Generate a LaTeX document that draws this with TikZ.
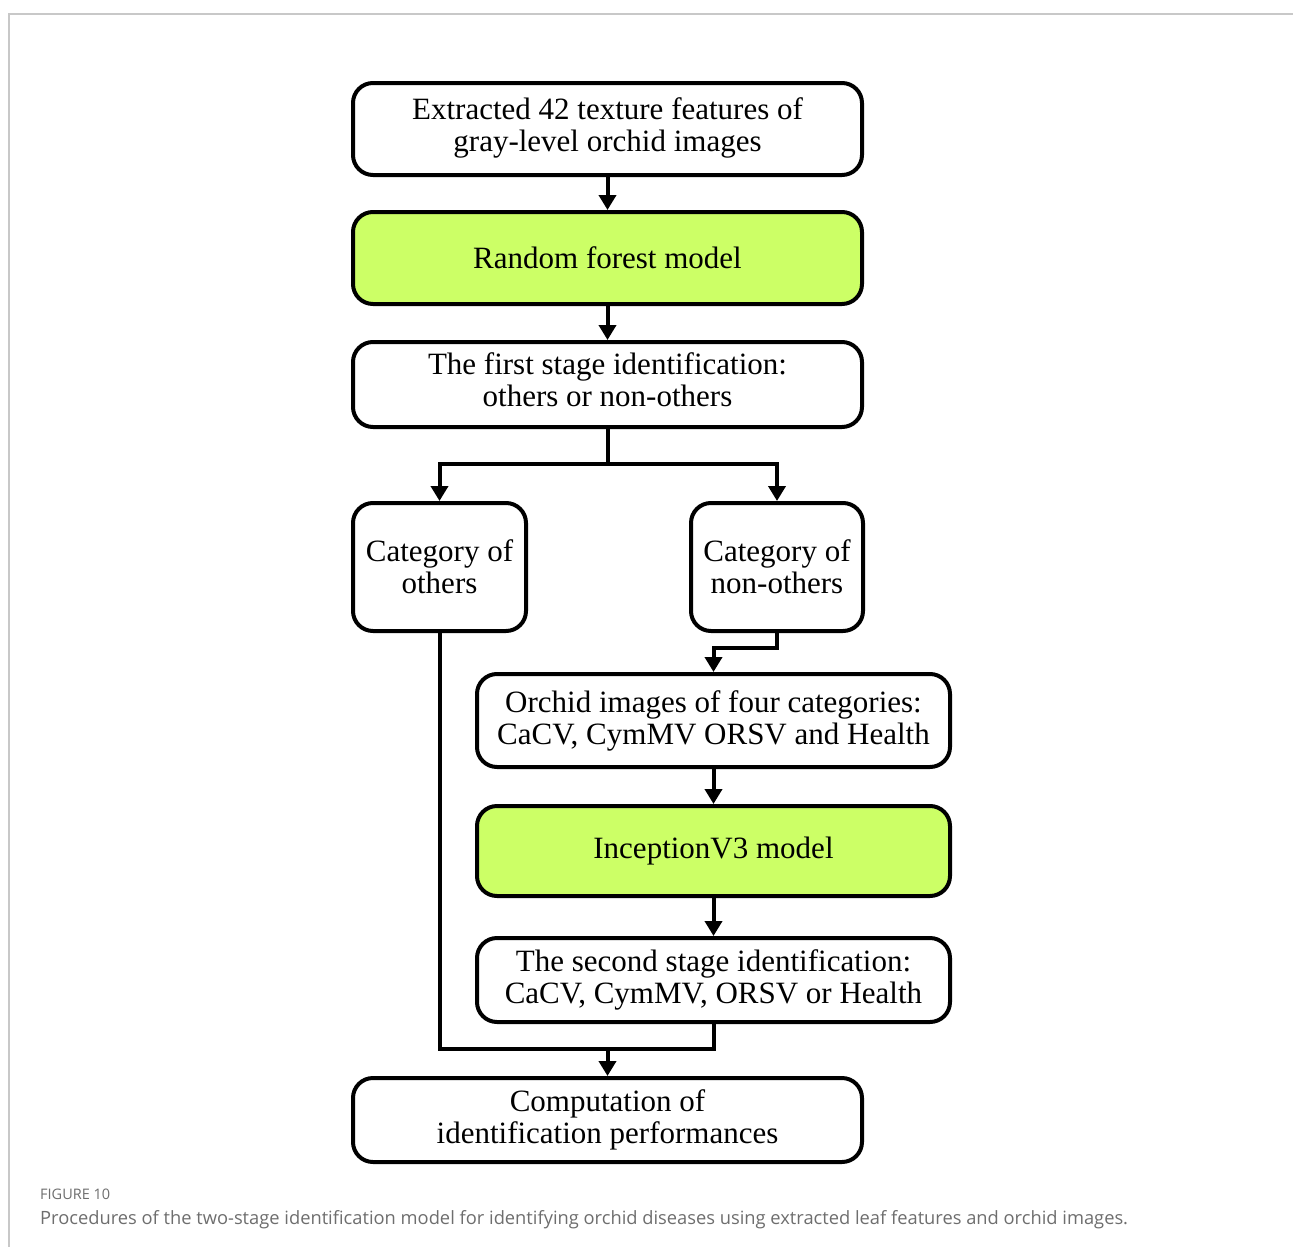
\documentclass[tikz,border=0pt]{standalone}
\usepackage{fontspec}
\setmainfont{Liberation Serif}
\newfontfamily\capfont{Open Sans}
\usetikzlibrary{arrows.meta}
\definecolor{boxgreen}{HTML}{CCFF66}
\definecolor{capgray}{HTML}{6E6E6E}
\definecolor{framegray}{HTML}{C8C8C8}
\tikzset{
  flowbox/.style={draw=black, line width=4pt, rounded corners=20pt, fill=white,
    align=center, inner sep=0pt, font=\fontsize{31}{32}\selectfont},
  greenbox/.style={flowbox, fill=boxgreen},
  conn/.style={line width=4pt},
  arr/.style={conn, -{Triangle[width=17pt,length=15pt]}},
}
\begin{document}
\begin{tikzpicture}[x=1pt,y=-1pt]
\useasboundingbox (0,0) rectangle (1293,1247);
\fill[white] (0,0) rectangle (1293,1247);
\draw[framegray, line width=1.5pt] (1293,14) -- (9,14) -- (9,1247);

\node[flowbox, minimum width=509pt, minimum height=92pt] (b1) at (607.5,129) {\raisebox{2pt}{\begin{tabular}{@{}c@{}}Extracted 42 texture features of\\gray-level orchid images\end{tabular}}};
\node[greenbox, minimum width=509pt, minimum height=92pt] (b2) at (607.5,258) {Random forest model};
\node[flowbox, minimum width=509pt, minimum height=85pt] (b3) at (607.5,384.5) {\raisebox{5pt}{\begin{tabular}{@{}c@{}}The first stage identification:\\others or non-others\end{tabular}}};
\node[flowbox, minimum width=173pt, minimum height=128pt] (b4) at (439.5,567) {Category of\\others};
\node[flowbox, minimum width=172pt, minimum height=128pt] (b5) at (777,567) {Category of\\non-others};
\node[flowbox, minimum width=473pt, minimum height=93pt] (b6) at (713.5,720.5) {Orchid images of four categories:\\CaCV, CymMV ORSV and Health};
\node[greenbox, minimum width=473pt, minimum height=90pt] (b7) at (713.5,851) {InceptionV3 model};
\node[flowbox, minimum width=473pt, minimum height=84pt] (b8) at (713.5,980) {The second stage identification:\\CaCV, CymMV, ORSV or Health};
\node[flowbox, minimum width=509pt, minimum height=84pt] (b9) at (607.5,1120) {Computation of\\identification performances};

\draw[arr] (b1.south) -- (b2.north);
\draw[arr] (b2.south) -- (b3.north);
\coordinate (split) at (607.5,464);
\draw[conn] (b3.south) -- (split);
\draw[arr] (split) -| (b4.north);
\draw[arr] (split) -| (b5.north);
\coordinate (k1) at (777,648);
\draw[arr] (b5.south) -- (k1) -| (b6.north);
\draw[arr] (b6.south) -- (b7.north);
\draw[arr] (b7.south) -- (b8.north);
\coordinate (m) at (607.5,1049);
\draw[conn] (b4.south) |- (m);
\draw[conn] (b8.south) |- (m);
\draw[arr] (m) -- (b9.north);

\node[anchor=base west, inner sep=0pt, text=capgray, font=\capfont\fontsize{14.5}{16}\selectfont] (fig) at (40,1199) {FIGURE 10};
\node[anchor=base west, inner sep=0pt, text=capgray, font=\capfont\fontsize{18.3}{21}\selectfont] (cap) at (40,1224) {Procedures of the two-stage identification model for identifying orchid diseases using extracted leaf features and orchid images.};
\end{tikzpicture}
\end{document}
